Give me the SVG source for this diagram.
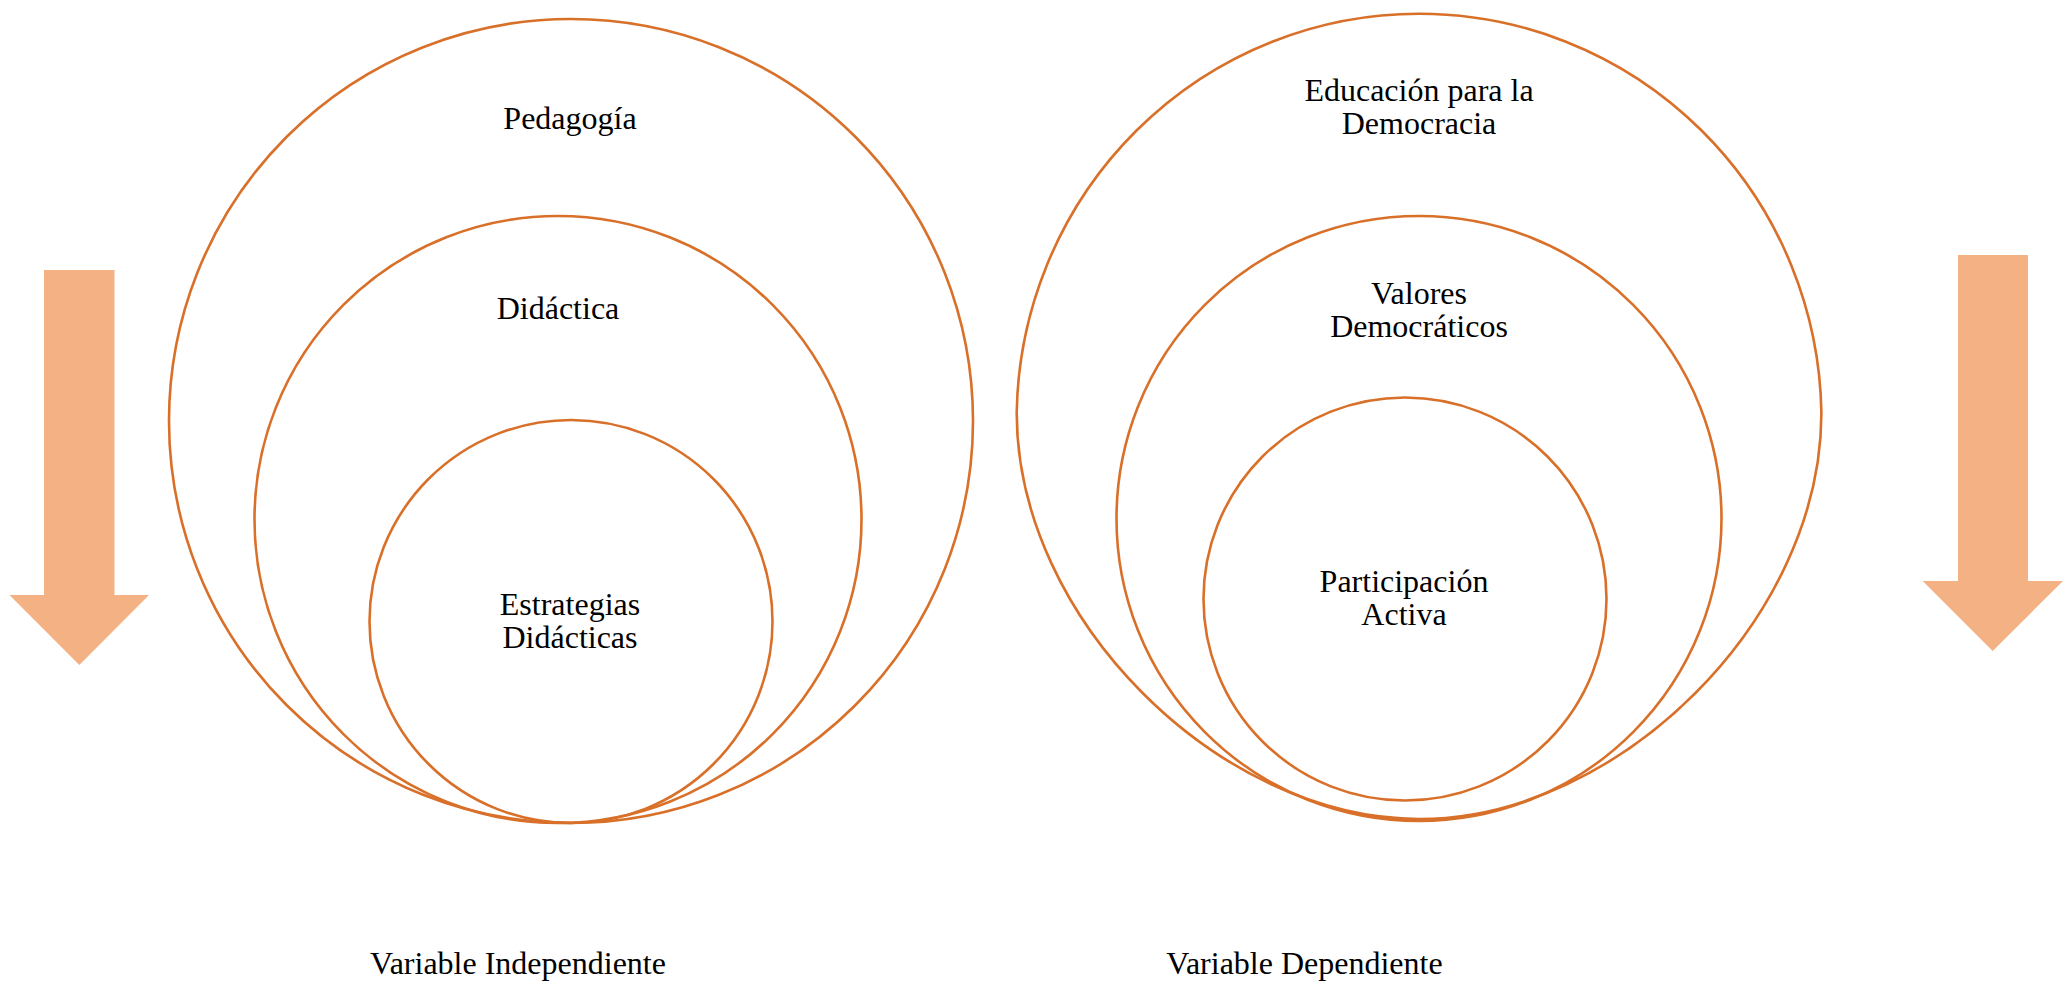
<svg xmlns="http://www.w3.org/2000/svg" width="2068" height="984" viewBox="0 0 2068 984">
<style>
.ring{fill:none;stroke:#D9702A;stroke-width:2.6}
.arrow{fill:#F4B183}
text{font-family:"Liberation Serif","Times New Roman",serif;font-size:32px;fill:#000;text-anchor:middle}
</style>
<rect width="2068" height="984" fill="#fff"/>
<g id="arrow-left"><polygon class="arrow" points="44,270 114.5,270 114.5,595 149,595 79.3,665 9.5,595 44,595"/></g>
<g id="arrow-right"><polygon class="arrow" points="1958,255 2028,255 2028,581 2063,581 1992.7,651 1922.7,581 1958,581"/></g>
<g id="pedagogia"><circle class="ring" cx="571" cy="421" r="402"/><text x="570" y="129">Pedagogía</text></g>
<g id="didactica"><circle class="ring" cx="558" cy="519.5" r="303.5"/><text x="558" y="319">Didáctica</text></g>
<g id="estrategias"><circle class="ring" cx="571" cy="621.5" r="201.5"/><text x="570" y="615">Estrategias</text><text x="570" y="648">Didácticas</text></g>
<g id="educacion"><path class="ring" d="M1016.7,413 A402.4,405.7 0 0 1 1821.4,413 C1821.4,619 1619,819 1419,819 C1219,819 1016.7,619 1016.7,413 Z"/><text x="1419" y="101">Educación para la</text><text x="1419" y="134">Democracia</text></g>
<g id="valores"><circle class="ring" cx="1419" cy="518.5" r="302.5"/><text x="1419" y="304">Valores</text><text x="1419" y="337">Democráticos</text></g>
<g id="participacion"><circle class="ring" cx="1405" cy="599" r="201.5"/><text x="1404" y="592">Participación</text><text x="1404" y="625">Activa</text></g>
<g id="labels"><text x="518" y="974">Variable Independiente</text><text x="1304.5" y="974">Variable Dependiente</text></g>
<g id="connectors"></g>
</svg>
